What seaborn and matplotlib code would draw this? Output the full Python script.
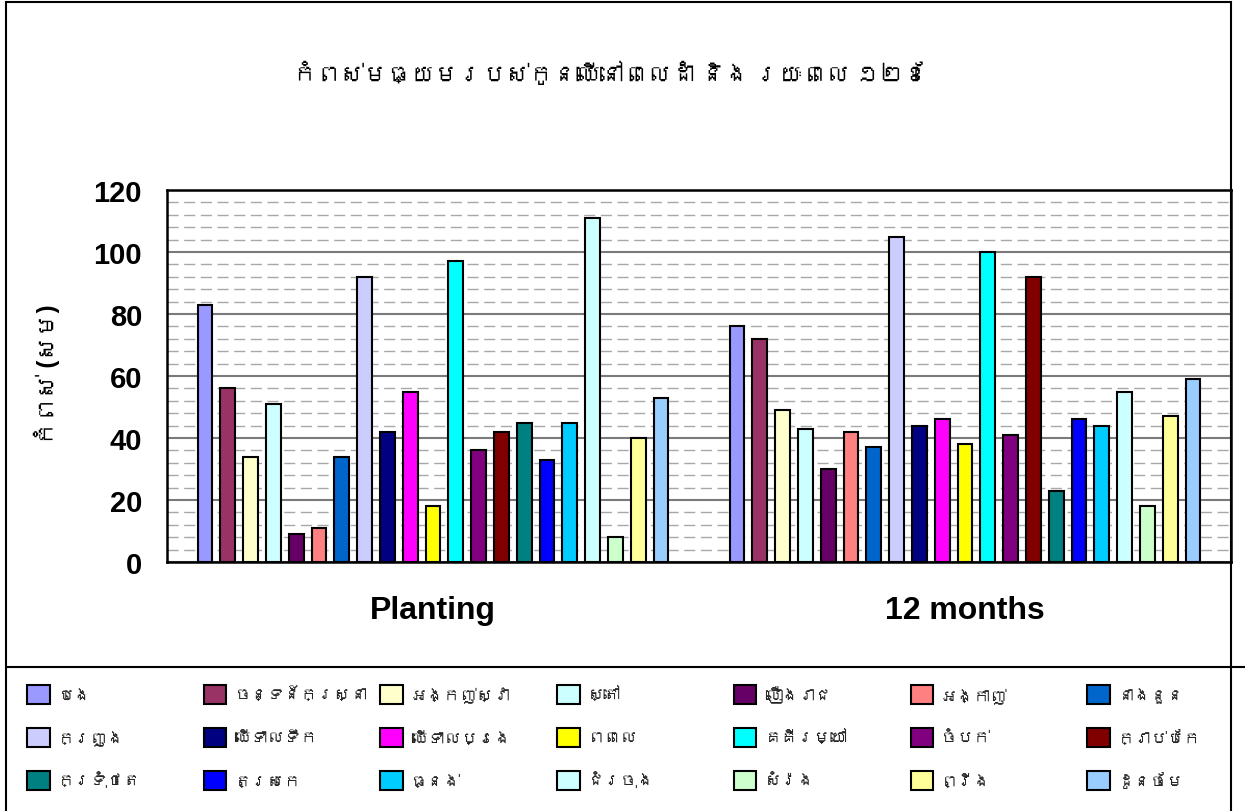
import matplotlib
matplotlib.use("Agg")
import matplotlib.pyplot as plt
import numpy as np
import pandas as pd
import seaborn as sns
from matplotlib import font_manager
from matplotlib.ft2font import FT2Font
from matplotlib.lines import Line2D
from matplotlib.patches import Patch, Rectangle
from matplotlib.ticker import MultipleLocator

# Data
periods = ["Planting", "12 months"]
species = [
    "បេង", "ចន្ទន៍ក្រស្នា", "អង្កញ់ស្វា", "ស្តៅ", "លឿងរាជ", "អង្កាញ់", "នាងនួន",
    "ក្រញូង", "ឈើទាលទឹក", "ឈើទាលប្រេង", "ពពេល", "គគីរម្យៅ", "ចំបក់", "ក្រាប់បែក",
    "ក្រទុំថេត", "ត្រសេក", "ធ្នង់", "ជំរចុង", "សំរ៉ង", "ព្រីង", "ដូនចែម",
]
colors = [
    "#9999FF", "#993366", "#FFFFCC", "#CCFFFF", "#660066", "#FF8080", "#0066CC",
    "#CCCCFF", "#000080", "#FF00FF", "#FFFF00", "#00FFFF", "#800080", "#800000",
    "#008080", "#0000FF", "#00CCFF", "#CCFFFF", "#CCFFCC", "#FFFF99", "#99CCFF",
]
planting = [83, 56, 34, 51, 9, 11, 34, 92, 42, 55, 18, 97, 36, 42, 45, 33, 45, 111, 8, 40, 53]
months12 = [76, 72, 49, 43, 30, 42, 37, 105, 44, 46, 38, 100, 41, 92, 23, 46, 44, 55, 18, 47, 59]
yticks = [0, 20, 40, 60, 80, 100, 120]

title = "កំពស់មធ្យមរបស់កូនឈើនៅពេលដាំ និង រយៈពេល ១២ខែ"
ylabel = "កំពស់ (សម)"

W, H = 1245, 812


def find_khmer_font():
    """Return the name of an installed font that covers Khmer, if any."""
    seen = set()
    for entry in font_manager.fontManager.ttflist:
        if entry.fname in seen:
            continue
        seen.add(entry.fname)
        try:
            if 0x1780 in FT2Font(entry.fname).get_charmap():
                return entry.name
        except Exception:
            continue
    return None


sns.set_theme(style="white")
khmer = find_khmer_font()
families = ["Liberation Sans"] + ([khmer] if khmer else []) + ["DejaVu Sans"]
plt.rcParams["font.family"] = families

df = pd.DataFrame(
    {
        "period": np.repeat(periods, len(species)),
        "species": species * 2,
        "height": planting + months12,
    }
)

fig, ax = plt.subplots(figsize=(W / 100, H / 100), dpi=100)
fig.subplots_adjust(left=167 / W, right=1231 / W, bottom=1 - 563 / H, top=1 - 191 / H)

sns.barplot(
    data=df,
    x="period",
    y="height",
    hue="species",
    hue_order=species,
    palette=colors,
    saturation=1,
    width=0.9,
    gap=0.35,
    edgecolor="black",
    linewidth=1.5,
    errorbar=None,
    legend=False,
    ax=ax,
)

# Axes styling
ax.set_xlabel("")
ax.set_ylabel("")
ax.set_ylim(0, 120)
ax.set_yticks(yticks)
ax.yaxis.set_minor_locator(MultipleLocator(4))
ax.set_axisbelow(True)
ax.grid(which="major", axis="y", color="#7A7A7A", linewidth=1.5)
ax.grid(which="minor", axis="y", color="#A8A8A8", linewidth=1.0, linestyle=(0, (8, 4)))
ax.grid(which="both", axis="x", visible=False)
for spine in ax.spines.values():
    spine.set_color("black")
    spine.set_linewidth(1.8)

ax.tick_params(axis="y", which="major", direction="out", length=7, width=1.5,
               color="black", pad=11, labelsize=21)
ax.tick_params(axis="y", which="minor", length=0)
ax.set_xticks([-0.5, 0.5, 1.5], minor=True)
ax.tick_params(axis="x", which="minor", direction="out", length=7, width=1.5, color="black")
ax.tick_params(axis="x", which="major", length=0, pad=24, labelsize=23)
for lab in ax.get_yticklabels() + ax.get_xticklabels():
    lab.set_fontweight("bold")
    lab.set_color("black")

# Title and y label
fig.text(610 / W, 1 - 75 / H, title, ha="center", va="center", fontsize=17,
         fontweight="bold", color="black")
fig.text(47 / W, 1 - 375 / H, ylabel, ha="center", va="center", rotation=90,
         fontsize=17, fontweight="bold", color="black")

# Chart border and legend box line
fig.patches.append(Rectangle((6 / W, -0.01), (1231 - 6) / W, (H - 3) / H + 0.01,
                             transform=fig.transFigure, fill=False,
                             edgecolor="black", linewidth=1.5))
fig.lines.append(Line2D([6 / W, 1.0], [1 - 668 / H, 1 - 668 / H],
                        transform=fig.transFigure, color="black", linewidth=1.5))

# Legend: 7 columns x 3 rows
ncol = 7
for c in range(ncol):
    idx = [c, c + ncol, c + 2 * ncol]
    handles = [Patch(facecolor=colors[i], edgecolor="black", linewidth=1.5) for i in idx]
    labels = [species[i] for i in idx]
    fig.legend(
        handles,
        labels,
        loc="upper left",
        bbox_to_anchor=((27 + c * 176.7) / W, 1 - 686 / H),
        frameon=False,
        fontsize=12,
        handlelength=1.35,
        handleheight=1.35,
        handletextpad=0.5,
        labelspacing=1.46,
        borderpad=0,
        borderaxespad=0,
    )

fig.savefig("out.png", dpi=100)
